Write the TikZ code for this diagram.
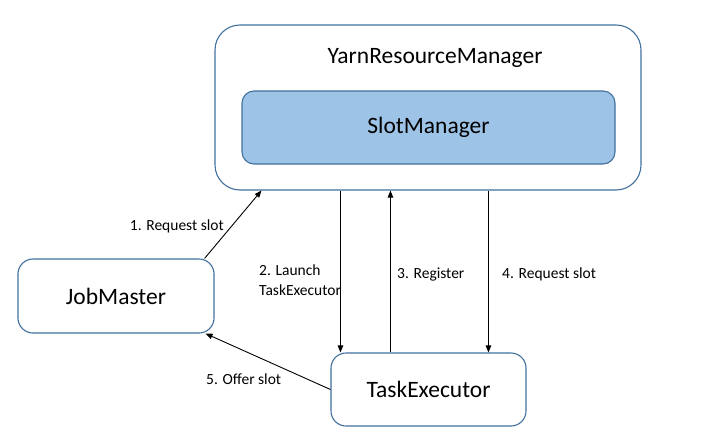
\documentclass[tikz,border=0pt]{standalone}
\usepackage{fontspec}
\setmainfont{Carlito}
\usetikzlibrary{arrows.meta}
\definecolor{edge}{HTML}{41719C}
\definecolor{slotfill}{HTML}{9DC3E6}
\tikzset{
  box/.style={draw=edge, line width=1.1pt, fill=white, rectangle, inner sep=0pt},
  arr/.style={-{Triangle[length=7pt,width=5.5pt]}, line width=0.9pt, black},
  lbl/.style={font=\fontsize{15.5}{20}\selectfont, inner sep=0pt},
  big/.style={font=\fontsize{23.5}{28}\selectfont}
}
\begin{document}
\begin{tikzpicture}[x=1pt,y=-1pt]
\useasboundingbox[fill=white] (0,0) rectangle (703,439);
\node[box, rounded corners=25pt, minimum width=426pt, minimum height=165pt] (ym) at (428,107.5) {};
\node[big, inner sep=0pt] (ymt) at (435,58) {YarnResourceManager};
\node[box, fill=slotfill, rounded corners=12pt, minimum width=373pt, minimum height=73pt, big] (sm) at (428.5,127.5) {SlotManager};
\node[box, rounded corners=15pt, minimum width=196pt, minimum height=74pt, big] (jm) at (116,296) {JobMaster};
\node[box, rounded corners=15pt, minimum width=195pt, minimum height=73pt, big] (te) at (428.5,389.5) {TaskExecutor};
% connectors
\draw[arr] ([xshift=-10pt]jm.north east) -- ([xshift=47pt]ym.south west);
\draw[arr] ([xshift=10pt]te.north west |- ym.south) -- ([xshift=10pt]te.north west);
\draw[arr] ([xshift=60pt]te.north west) -- ([xshift=60pt]te.north west |- ym.south);
\draw[arr] ([xshift=158pt]te.north west |- ym.south) -- ([xshift=158pt]te.north west);
\draw[arr] (te.west) -- ([xshift=-9pt]jm.south east);
% labels
\node[lbl, anchor=east] (l1) at (224,226) {1. Request slot};
\node[lbl, anchor=west, align=left] (l2) at (259,280) {2. Launch\\TaskExecutor};
\node[lbl, anchor=west] (l3) at (397,274) {3. Register};
\node[lbl, anchor=west] (l4) at (502,274) {4. Request slot};
\node[lbl, anchor=west] (l5) at (206,379) {5. Offer slot};
\end{tikzpicture}
\end{document}
